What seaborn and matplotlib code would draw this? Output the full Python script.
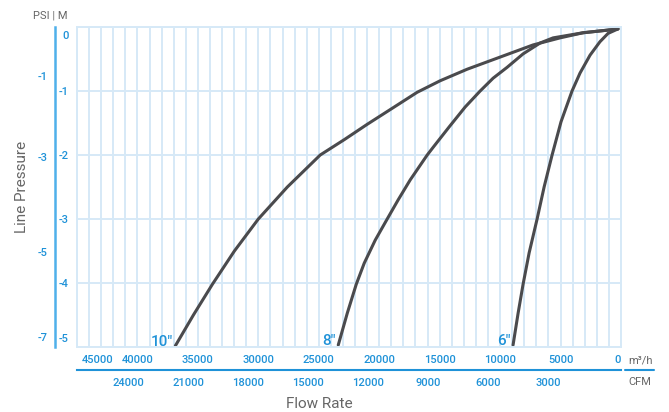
import numpy as np
import pandas as pd
import matplotlib
matplotlib.use('Agg')
import matplotlib.pyplot as plt
import matplotlib.transforms as mtransforms
from matplotlib.lines import Line2D
import seaborn as sns

# flow rate (m3/h) against line pressure (M)
flow_10 = [36860, 35370, 33800, 31980, 30000, 27600, 24880, 22890, 20990, 18840, 16860,
           14960, 12730, 10000, 7270, 5040, 3140, 1160, 250]
press_10 = [-4.98, -4.5, -4.02, -3.5, -3.0, -2.5, -2.0, -1.76, -1.52, -1.26, -1.02,
            -0.84, -0.66, -0.47, -0.28, -0.17, -0.09, -0.05, -0.03]
flow_8 = [23390, 22640, 21900, 21240, 20330, 19340, 18430, 17440, 16030, 15540, 14210,
          12890, 11650, 10580, 9420, 8100, 6690, 5620, 3140, 1160, 250]
press_8 = [-4.97, -4.47, -4.02, -3.69, -3.33, -3.0, -2.70, -2.39, -2.0, -1.88, -1.56,
           -1.25, -1.0, -0.80, -0.63, -0.42, -0.25, -0.17, -0.09, -0.05, -0.03]
flow_6 = [8930, 8510, 8100, 7600, 6940, 6360, 5700, 4960, 4050, 3390, 2560, 1740, 1070, 250]
press_6 = [-4.97, -4.47, -4.02, -3.53, -3.0, -2.5, -2.0, -1.48, -1.0, -0.72, -0.44, -0.23,
           -0.10, -0.03]
sizes = ['10"', '8"', '6"']

m3h_ticks = [45000, 40000, 35000, 30000, 25000, 20000, 15000, 10000, 5000, 0]
m_ticks = [0, -1, -2, -3, -4, -5]
psi_labels = ['-1', '-3', '-5', '-7']
psi_pos = [-0.77, -2.03, -3.51, -4.85]
cfm_ticks = [24000, 21000, 18000, 15000, 12000, 9000, 6000, 3000]

df = pd.concat([
    pd.DataFrame({'flow': f, 'pressure': p, 'size': s})
    for f, p, s in zip([flow_10, flow_8, flow_6], [press_10, press_8, press_6], sizes)
], ignore_index=True)

sns.set_style('white')
plt.rcParams['font.family'] = ['Roboto', 'DejaVu Sans']

blue = '#1f92d8'
grid_c = '#d6e9f7'
gray = '#666666'
line_c = '#4a4a4d'
tick_kw = dict(fontsize=8, color=blue, fontweight='medium')

fig = plt.figure(figsize=(6.69, 4.12), dpi=100)
W, H = 669, 412
ax = fig.add_axes([77 / W, 1 - 347 / H, (621 - 77) / W, (347 - 27) / H])

sns.lineplot(data=df, x='flow', y='pressure', hue='size', units='size', estimator=None,
             sort=False, palette={s: line_c for s in sizes}, legend=False,
             lw=2.2, ax=ax, solid_capstyle='round', solid_joinstyle='round')

ax.set_xlim(45000, 0)
ax.set_ylim(-5, 0)
ax.set_xticks(m3h_ticks)
ax.set_xticks(np.arange(0, 45001, 1000), minor=True)
ax.set_yticks(m_ticks)
ax.grid(which='both', color=grid_c, lw=1.4)
ax.set_axisbelow(True)
for sp in ax.spines.values():
    sp.set_color(grid_c)
    sp.set_linewidth(1.4)
ax.set_xlabel('')
ax.set_ylabel('')
ax.set_xticklabels([str(t) for t in m3h_ticks], **tick_kw)
ax.set_yticklabels([str(t) for t in m_ticks], **tick_kw)
ax.tick_params(which='both', length=0)
ax.tick_params(axis='x', pad=6)
ax.tick_params(axis='y', pad=6)

xl = ax.get_xticklabels()
xl[0].set_ha('left')
xl[0].set_transform(xl[0].get_transform() + mtransforms.ScaledTranslation(5 / 100, 0, fig.dpi_scale_trans))
xl[-1].set_ha('right')
yl = ax.get_yticklabels()
yl[0].set_va('top')
yl[0].set_transform(yl[0].get_transform() + mtransforms.ScaledTranslation(0, -4 / 100, fig.dpi_scale_trans))
yl[-1].set_va('bottom')
yl[-1].set_transform(yl[-1].get_transform() + mtransforms.ScaledTranslation(0, 3 / 100, fig.dpi_scale_trans))

# curve labels at the bottom end of each curve
for f, p, s in zip([flow_10, flow_8, flow_6], [press_10, press_8, press_6], sizes):
    ax.annotate(s, xy=(f[0], p[0]), xytext=(-1.5, 0), textcoords='offset points',
                ha='right', va='baseline', fontsize=11, color=blue, fontweight='medium')

# PSI scale on the outer left
axp = ax.twinx()
axp.set_ylim(ax.get_ylim())
axp.yaxis.tick_left()
axp.spines['left'].set_position(('outward', 16))
axp.spines['left'].set_color('#4fb0ea')
axp.spines['left'].set_linewidth(1.8)
for k in ['right', 'top', 'bottom']:
    axp.spines[k].set_visible(False)
axp.set_yticks(psi_pos)
axp.set_yticklabels(psi_labels, **tick_kw)
axp.tick_params(axis='y', length=0, pad=5)
axp.grid(False)

# CFM scale below
axc = ax.twiny()
axc.set_xlim(26550, -650)
axc.xaxis.tick_bottom()
axc.spines['bottom'].set_position(('outward', 16.5))
axc.spines['bottom'].set_color(blue)
axc.spines['bottom'].set_linewidth(1.5)
for k in ['left', 'right', 'top']:
    axc.spines[k].set_visible(False)
axc.set_xticks(cfm_ticks)
axc.set_xticklabels([str(t) for t in cfm_ticks], **tick_kw)
axc.tick_params(axis='x', length=0, pad=6)
axc.grid(False)

fig.add_artist(Line2D([625 / W, 654 / W], [1 - 370 / H] * 2, color=blue, lw=1.5))
fig.text(628 / W, 1 - 360 / H, 'm³/h', ha='left', va='center', fontsize=8, color=gray)
fig.text(628 / W, 1 - 382 / H, 'CFM', ha='left', va='center', fontsize=8, color=gray)
fig.text(33 / W, 1 - 15 / H, 'PSI | M', ha='left', va='center', fontsize=8, color=gray)
fig.text(22 / W, 1 - 187 / H, 'Line Pressure', rotation=90, ha='center', va='center',
         fontsize=11, color=gray)
fig.text(319 / W, 1 - 404 / H, 'Flow Rate', ha='center', va='center', fontsize=11, color=gray)

fig.savefig('out.png', dpi=100)
